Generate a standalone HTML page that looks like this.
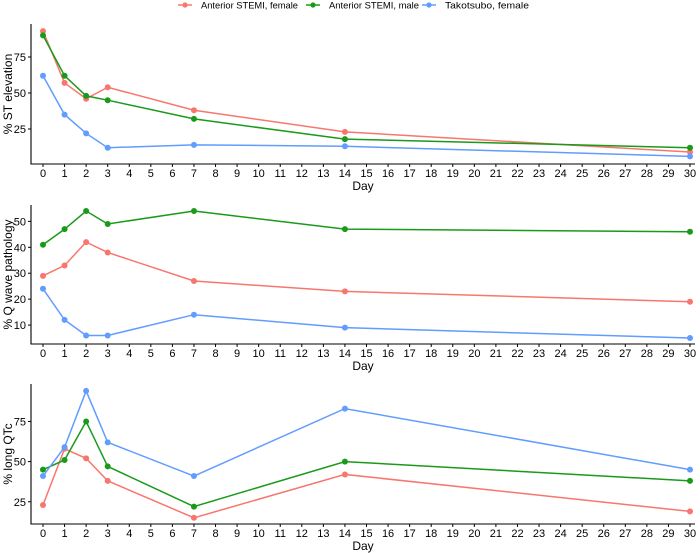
<!DOCTYPE html>
<html><head><meta charset="utf-8"><style>
body{margin:0;background:#fff;}
svg{display:block;font-family:"Liberation Sans",sans-serif;}
</style></head><body>
<svg id="chart" width="700" height="553"></svg>
<script>
const days=[0,1,2,3,7,14,30];
const seriesNames=["Anterior STEMI, female","Anterior STEMI, male","Takotsubo, female"];
const stFemale=[93,57,46,54,38,23,9];
const stMale=[90,62,48,45,32,18,12];
const stTako=[62,35,22,12,14,13,6];
const qFemale=[29,33,42,38,27,23,19];
const qMale=[41,47,54,49,54,47,46];
const qTako=[24,12,6,6,14,9,5];
const qtFemale=[23,58,52,38,15,42,19];
const qtMale=[45,51,75,47,22,50,38];
const qtTako=[41,59,94,62,41,83,45];
const stTicks=[25,50,75];
const qTicks=[10,20,30,40,50];
const qtTicks=[25,50,75];
const colors=["#F8766D","#1a9a1a","#619CFF"];
const NS="http://www.w3.org/2000/svg";
const svg=document.getElementById('chart');
function mk(t,a,p){const e=document.createElementNS(NS,t);for(const k in a)e.setAttribute(k,a[k]);(p||svg).appendChild(e);return e;}
const x=d=>43+d*(647/30);
const panels=[
 {name:"st",title:"% ST elevation",top:24,bottom:164,y0:165,ppu:36/25,ticks:stTicks,data:[stFemale,stMale,stTako]},
 {name:"q",title:"% Q wave pathology",top:205,bottom:344,y0:351,ppu:103.7/40,ticks:qTicks,data:[qFemale,qMale,qTako]},
 {name:"qtc",title:"% long QTc",top:384,bottom:524,y0:541.9,ppu:80.3/50,ticks:qtTicks,data:[qtFemale,qtMale,qtTako]}
];
panels.forEach(p=>{
 const g=mk('g',{});
 
 
 const y=v=>p.y0-v*p.ppu;
 const ax=mk('path',{d:`M31,${p.top}V${p.bottom}H695`,stroke:'#000','stroke-width':1.1,fill:'none'},g);
 
 
 p.ticks.forEach(t=>{
  mk('line',{x1:28,x2:31,y1:y(t),y2:y(t),stroke:'#000'},g);
  const tl=mk('text',{x:26,y:y(t)+4,'text-anchor':'end','font-size':11,fill:'#000'},g);
  tl.textContent=t;
  
  
 });
 for(let d=0;d<=30;d++){
  mk('line',{x1:x(d),x2:x(d),y1:p.bottom,y2:p.bottom+3,stroke:'#000'},g);
  const tl=mk('text',{x:x(d),y:p.bottom+13,'text-anchor':'middle','font-size':11,fill:'#000'},g);
  tl.textContent=d;
  
  
 }
 const xt=mk('text',{x:363,y:p.bottom+26,'text-anchor':'middle','font-size':12,fill:'#000'},g);
 xt.textContent='Day';
 
 
 const cy=(p.top+p.bottom)/2;
 const yt=mk('text',{x:0,y:0,transform:`translate(12,${cy}) rotate(-90)`,'text-anchor':'middle','font-size':12,fill:'#000'},g);
 yt.textContent=p.title;
 
 
 p.data.forEach((s,i)=>{
  const pts=s.map((v,j)=>x(days[j])+','+y(v)).join(' ');
  const l=mk('polyline',{points:pts,fill:'none',stroke:colors[i],'stroke-width':1.5},g);
  
  
  s.forEach((v,j)=>{
   const c=mk('circle',{cx:x(days[j]),cy:y(v),r:3,fill:colors[i]},g);
   
   
  });
 });
});
const legX=[185,313,429];
const legW=[97,90,84];
seriesNames.forEach((n,i)=>{
 const lg=mk('g',{});
 
 
 mk('line',{x1:legX[i]-7,x2:legX[i]+7,y1:5,y2:5,stroke:colors[i],'stroke-width':1.5},lg);
 mk('circle',{cx:legX[i],cy:5,r:2.6,fill:colors[i]},lg);
 const t=mk('text',{x:legX[i]+16,y:8.5,'font-size':9.5,fill:'#000',textLength:legW[i],lengthAdjust:'spacingAndGlyphs'},lg);
 t.textContent=n;
});
</script>
</body></html>
